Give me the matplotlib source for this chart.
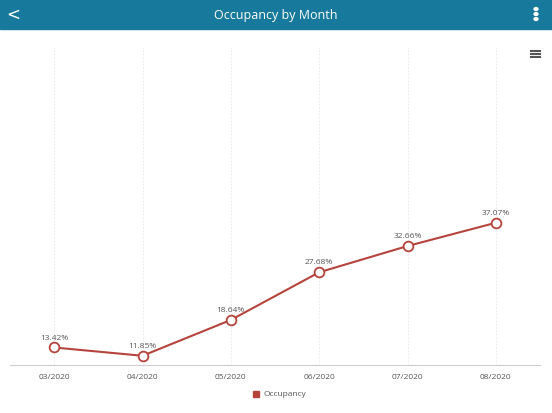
import matplotlib
matplotlib.use("Agg")
import matplotlib.pyplot as plt
from matplotlib.patches import Rectangle

# ── data ──
months = ["03/2020", "04/2020", "05/2020", "06/2020", "07/2020", "08/2020"]
occupancy = [13.42, 11.85, 18.64, 27.68, 32.66, 37.07]

line_color = "#b5443c"
header_color = "#17799b"

fig = plt.figure(figsize=(5.52, 4.14), dpi=100)
fig.patch.set_facecolor("white")

# header bar
fig.patches.append(Rectangle((0, 1 - 30 / 414), 1, 30 / 414, transform=fig.transFigure,
                             color=header_color, zorder=0))
fig.text(0.5, 1 - 15 / 414, "Occupancy by Month", color="white", fontsize=9,
         ha="center", va="center", family="Open Sans")
fig.text(13 / 552, 1 - 15 / 414, "<", color="white", fontsize=12,
         ha="center", va="center", family="DejaVu Sans")
for dy in (-5, 0, 5):
    fig.patches.append(plt.Circle((536 / 552, 1 - (15 + dy) / 414), 0.0035,
                                  transform=fig.transFigure, color="white"))
# menu icon
for dy in (-3, 0, 3):
    fig.lines.append(plt.Line2D([531 / 552, 540 / 552], [1 - (55 + dy) / 414] * 2,
                                transform=fig.transFigure, color="#555555", lw=1.5))

ax = fig.add_axes([10 / 552, 48 / 414, 530 / 552, 318 / 414])
x = list(range(len(months)))
ax.plot(x, occupancy, color=line_color, lw=1.5, marker="o", markersize=7,
        markerfacecolor="white", markeredgecolor=line_color, markeredgewidth=1.3, zorder=3)
for xi, v in zip(x, occupancy):
    ax.annotate(f"{v:.2f}%", (xi, v), xytext=(0, 5), textcoords="offset points",
                ha="center", va="bottom", fontsize=6, color="#555555", family="Open Sans")

ax.set_xlim(-0.5, 5.5)
ax.set_ylim(10.1, 70.4)
ax.set_xticks(x)
ax.set_xticklabels(months, fontsize=6, color="#555555", family="Open Sans")
ax.set_yticks([])
ax.tick_params(axis="x", length=0, pad=6)
for xi in x:
    ax.axvline(xi, color="#e6e6e6", lw=0.6, ls=(0, (2, 2)), zorder=0)
for s in ("top", "right", "left"):
    ax.spines[s].set_visible(False)
ax.spines["bottom"].set_color("#cccccc")

# legend
fig.patches.append(Rectangle((253 / 552, 1 - 398 / 414), 6 / 552, 6 / 414,
                             transform=fig.transFigure, color=line_color))
fig.text(264 / 552, 1 - 395 / 414, "Occupancy", fontsize=6, color="#555555",
         va="center", family="Open Sans")

fig.savefig("out.png", dpi=100)
